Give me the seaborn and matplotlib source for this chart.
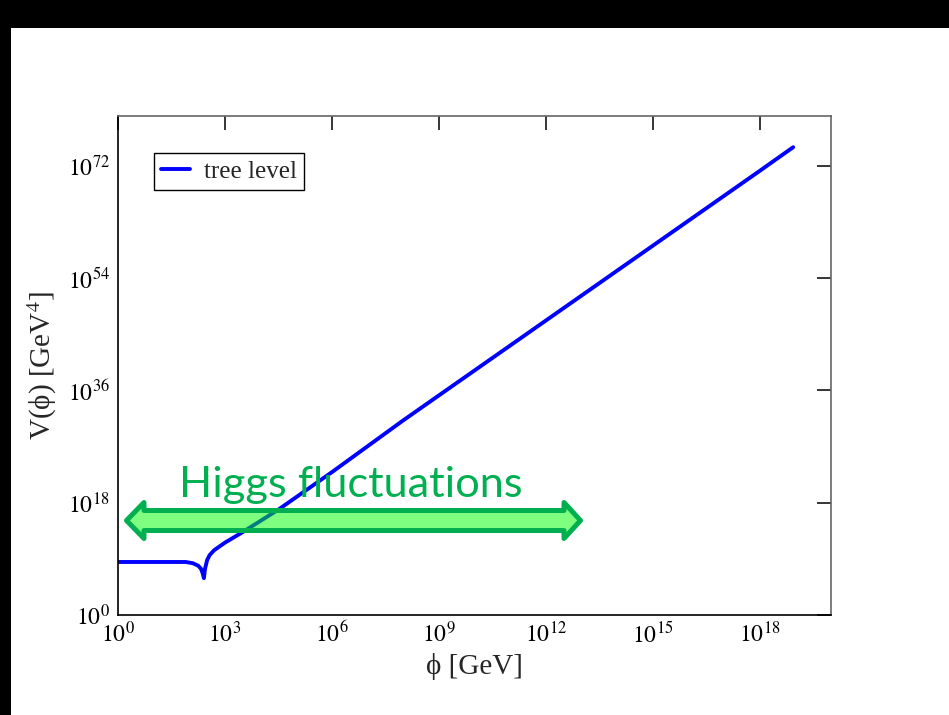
import numpy as np
import pandas as pd
import matplotlib
matplotlib.use("Agg")
import matplotlib.pyplot as plt
import seaborn as sns
from matplotlib.patches import Polygon, Rectangle
from matplotlib.ticker import FixedLocator, FuncFormatter, NullLocator

# ---- data (log10 values) ----
log_phi = [0.0, 1.0, 1.9, 2.1, 2.25, 2.33, 2.38, 2.41, 2.44, 2.5, 2.57, 2.7, 3.0,
           3.5, 4.0, 4.5, 5.0, 6.0, 8.0, 10.0, 12.0, 14.0, 16.0, 18.0, 18.94]
log_V = [8.5, 8.5, 8.5, 8.3, 7.9, 7.4, 6.6, 5.9, 7.4, 8.8, 9.6, 10.4, 11.6,
         13.3, 15.1, 16.9, 18.9, 22.9, 31.2, 39.2, 47.2, 55.2, 63.2, 71.2, 75.0]
x_tick_exp = [0, 3, 6, 9, 12, 15, 18]
y_tick_exp = [0, 18, 36, 54, 72]
series_label = "tree level"
annotation_text = "Higgs fluctuations"

sns.set_style("white")
plt.rcParams["font.family"] = ["Liberation Serif", "DejaVu Serif"]
plt.rcParams["mathtext.fontset"] = "stix"

W, H = 949, 715
fig = plt.figure(figsize=(W / 100, H / 100), dpi=100)
fig.patch.set_facecolor("white")


def fx(px):
    return px / W


def fy(py):
    return 1 - py / H


# black slide borders
top_band = 28
fig.patches.append(Rectangle((0, fy(top_band)), 1, top_band / H, transform=fig.transFigure,
                             facecolor="black", edgecolor="none", zorder=0))
fig.patches.append(Rectangle((0, 0), 11 / W, 1, transform=fig.transFigure,
                             facecolor="black", edgecolor="none", zorder=0))

ax = fig.add_axes([fx(118), fy(615), (831 - 118) / W, (615 - 116) / H])
ax.set_xscale("log")
ax.set_yscale("log")

df = pd.DataFrame({"phi": 10.0 ** np.array(log_phi), "V": 10.0 ** np.array(log_V)})
sns.lineplot(data=df, x="phi", y="V", ax=ax, color="#0000FF", lw=2.8,
             label=series_label, sort=False)

ax.set_xlim(1, 1e20)
ax.set_ylim(1, 1e80)

fmt = FuncFormatter(lambda v, p: r"$10^{%d}$" % int(round(np.log10(v))))
ax.xaxis.set_major_locator(FixedLocator([10.0 ** e for e in x_tick_exp]))
ax.yaxis.set_major_locator(FixedLocator([10.0 ** e for e in y_tick_exp]))
ax.xaxis.set_major_formatter(fmt)
ax.yaxis.set_major_formatter(fmt)
ax.xaxis.set_minor_locator(NullLocator())
ax.yaxis.set_minor_locator(NullLocator())
ax.tick_params(which="major", direction="in", length=10, width=1.1,
               top=True, right=True, labelsize=17, colors="black")
ax.tick_params(axis="x", pad=5)
ax.tick_params(axis="y", pad=6)

for s in ["left", "bottom"]:
    ax.spines[s].set_color("black")
    ax.spines[s].set_linewidth(1.2)
for s in ["top", "right"]:
    ax.spines[s].set_color("#666666")
    ax.spines[s].set_linewidth(1.2)

ax.set_xlabel("\u03d5 [GeV]", fontsize=21, labelpad=4)
ax.set_ylabel("V(\u03d5) [GeV$^4$]", fontsize=21, labelpad=6)

leg = ax.legend(loc="upper left", bbox_to_anchor=(0.05, 0.926), borderaxespad=0,
                fontsize=18, frameon=True, fancybox=False, framealpha=1,
                edgecolor="black", handlelength=1.15, handletextpad=0.55,
                borderpad=0.3)
leg.get_frame().set_linewidth(1.0)

# annotation: double arrow + text
cy = 520.5
pts = [(126.5, cy), (144, cy - 18), (144, cy - 10), (564, cy - 10), (564, cy - 18),
       (580.5, cy), (564, cy + 18), (564, cy + 10), (144, cy + 10), (144, cy + 18)]
arrow = Polygon([(fx(x), fy(y)) for x, y in pts], closed=True,
                transform=fig.transFigure, facecolor=(0, 1, 0, 0.5),
                edgecolor="#00B050", linewidth=3.6, joinstyle="round", zorder=5)
fig.patches.append(arrow)
fig.text(fx(179), fy(496.7), annotation_text, family="Lato", fontsize=31.2,
         color="#00B050", ha="left", va="baseline", zorder=6)

fig.savefig("out.png", dpi=100, facecolor="white")
